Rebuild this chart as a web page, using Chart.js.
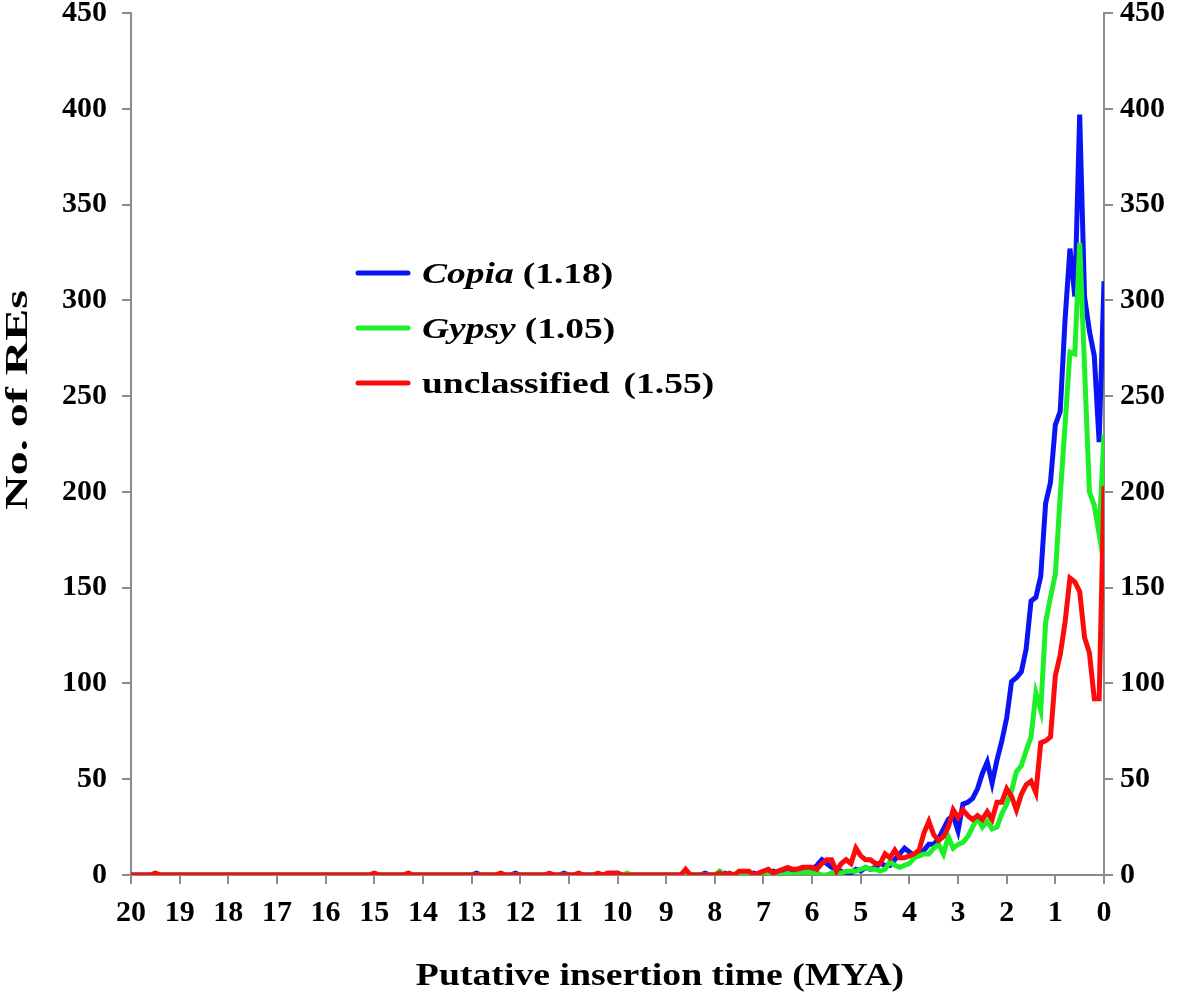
<!DOCTYPE html>
<html>
<head>
<meta charset="utf-8">
<script src="https://cdn.jsdelivr.net/npm/chart.js@4.4.1/dist/chart.umd.min.js"></script>
<style>
  html, body { margin: 0; padding: 0; background: #fff; }
  canvas { display: block; }
</style>
</head>
<body>
<canvas id="grap" width="1181" height="1002"></canvas>
<script>
// time bins in MYA (0.0 .. 20.0, step 0.1)
const mya = Array.from({ length: 201 }, (_, i) => +(i / 10).toFixed(1))

// number of REs per bin, index i -> mya[i]
const copia = [
  310, 226, 271, 284, 302, 397, 302, 327, 290, 242,
  235, 205, 194, 156, 145, 143, 118, 106, 103, 101,
  82, 70, 60, 48, 59, 53, 45, 40, 38, 37,
  23, 31, 29, 24, 19, 16, 16, 13, 11, 10,
  12, 14, 11, 8, 5, 5, 6, 4, 3, 4,
  2, 3, 1, 0, 2, 3, 4, 6, 8, 5,
  3, 3, 2, 3, 2, 2, 1, 1, 2, 1,
  1, 0, 1, 0, 1, 0, 0, 0, 1, 0,
  0, 0, 1, 0, 0, 0, 0, 0, 0, 0,
  0, 0, 0, 0, 0, 0, 0, 0, 0, 0,
  0, 0, 0, 0, 0, 0, 0, 0, 0, 0,
  0, 1, 0, 0, 0, 0, 0, 0, 0, 0,
  0, 1, 0, 0, 0, 0, 0, 0, 0, 1,
  0, 0, 0, 0, 0, 0, 0, 0, 0, 0,
  0, 0, 0, 0, 0, 0, 0, 0, 0, 0,
  0, 0, 0, 0, 0, 0, 0, 0, 0, 0,
  0, 0, 0, 0, 0, 0, 0, 0, 0, 0,
  0, 0, 0, 0, 0, 0, 0, 0, 0, 0,
  0, 0, 0, 0, 0, 0, 0, 0, 0, 0,
  0, 0, 0, 0, 0, 0, 0, 0, 0, 0,
  0
]

const gypsy = [
  230, 178, 193, 200, 265, 330, 272, 273, 235, 198,
  157, 145, 132, 86, 95, 72, 65, 57, 54, 44,
  37, 32, 25, 24, 28, 25, 30, 25, 20, 17,
  16, 14, 20, 11, 16, 14, 11, 11, 10, 9,
  6, 5, 4, 5, 7, 3, 2, 3, 3, 4,
  3, 2, 2, 2, 1, 1, 1, 0, 0, 1,
  1, 2, 1, 1, 0, 1, 0, 0, 0, 0,
  1, 0, 0, 0, 0, 1, 0, 0, 0, 2,
  0, 0, 0, 0, 0, 0, 0, 0, 0, 0,
  0, 0, 0, 0, 0, 0, 0, 0, 1, 0,
  1, 0, 0, 0, 0, 0, 0, 0, 1, 0,
  0, 0, 0, 0, 0, 0, 0, 0, 0, 0,
  0, 0, 0, 0, 1, 0, 0, 0, 0, 0,
  0, 0, 0, 0, 0, 0, 0, 0, 0, 0,
  0, 0, 0, 1, 0, 0, 0, 0, 0, 0,
  1, 0, 0, 0, 0, 0, 0, 0, 0, 0,
  0, 0, 0, 0, 0, 0, 0, 0, 0, 0,
  0, 0, 0, 0, 0, 0, 0, 0, 0, 0,
  0, 0, 0, 0, 0, 0, 0, 0, 0, 0,
  0, 0, 0, 0, 0, 1, 0, 0, 0, 0,
  0
]

const unclassified = [
  203, 92, 92, 116, 124, 148, 153, 155, 132, 115,
  104, 72, 70, 69, 43, 49, 47, 42, 34, 41,
  45, 38, 38, 29, 33, 29, 31, 29, 31, 34,
  30, 34, 25, 20, 18, 21, 28, 22, 13, 11,
  10, 9, 9, 13, 9, 11, 6, 6, 8, 8,
  10, 14, 6, 8, 6, 2, 8, 8, 6, 3,
  4, 4, 4, 3, 3, 4, 3, 2, 1, 3,
  2, 1, 0, 2, 2, 2, 0, 1, 0, 1,
  0, 0, 0, 0, 0, 0, 3, 0, 0, 0,
  0, 0, 0, 0, 0, 0, 0, 0, 0, 0,
  1, 1, 1, 0, 1, 0, 0, 0, 1, 0,
  0, 0, 0, 0, 1, 0, 0, 0, 0, 0,
  0, 0, 0, 0, 1, 0, 0, 0, 0, 0,
  0, 0, 0, 0, 0, 0, 0, 0, 0, 0,
  0, 0, 0, 1, 0, 0, 0, 0, 0, 0,
  1, 0, 0, 0, 0, 0, 0, 0, 0, 0,
  0, 0, 0, 0, 0, 0, 0, 0, 0, 0,
  0, 0, 0, 0, 0, 0, 0, 0, 0, 0,
  0, 0, 0, 0, 0, 0, 0, 0, 0, 0,
  0, 0, 0, 0, 0, 1, 0, 0, 0, 0,
  0
]

const series = [
  { nome: "Copia", media: "(1.18)", italico: true, cor: "#0a14f5", valores: copia, ordem: 3 },
  { nome: "Gypsy", media: "(1.05)", italico: true, cor: "#1ef028", valores: gypsy, ordem: 2 },
  { nome: "unclassified", media: "(1.55)", italico: false, cor: "#ff0a0a", valores: unclassified, ordem: 1 }
]

const xTitulo = "Putative insertion time (MYA)"
const yTitulo = "No. of REs"

const serif = "'Liberation Serif', 'Times New Roman', serif"
const cinza = "#8c8c8c"

// texto esticado na horizontal (a figura original é mais larga)
function textoLargo(ctx, txt, x, y, sx) {
  ctx.save()
  ctx.translate(x, y)
  ctx.scale(sx, 1)
  ctx.fillText(txt, 0, 0)
  ctx.restore()
  return ctx.measureText(txt).width * sx
}

// legend + axis titles drawn by hand (mixed italic/bold)
const extras = {
  id: 'extras',
  afterDraw(chart) {
    const ctx = chart.ctx
    ctx.save()
    ctx.fillStyle = '#000'
    ctx.textBaseline = 'alphabetic'
    series.forEach((s, i) => {
      const y = 273 + i * 55
      ctx.strokeStyle = s.cor
      ctx.lineWidth = 5
      ctx.lineCap = 'round'
      ctx.beginPath()
      ctx.moveTo(358, y)
      ctx.lineTo(408, y)
      ctx.stroke()
      ctx.font = (s.italico ? 'italic ' : '') + 'bold 30px ' + serif
      const w = textoLargo(ctx, s.nome, 422, y + 10, 1.25)
      ctx.font = 'bold 30px ' + serif
      textoLargo(ctx, s.media, 422 + w + (s.italico ? 9 : 14), y + 10, 1.25)
    })

    ctx.font = 'bold 32px ' + serif
    ctx.textAlign = 'center'
    ctx.textBaseline = 'middle'
    textoLargo(ctx, xTitulo, 660, 977, 1.18)

    ctx.translate(19, 400)
    ctx.rotate(-Math.PI / 2)
    textoLargo(ctx, yTitulo, 0, 0, 1.5)
    ctx.restore()
  }
}

function criarGraf() {
  const ctx = document.getElementById('grap').getContext('2d')

  const eixoY = (posicao, largura, pad) => ({
    type: 'linear',
    position: posicao,
    min: 0,
    max: 450,
    afterFit: (scale) => {
      scale.width = largura
      scale.paddingTop = 13
    },
    grid: { drawOnChartArea: false, drawTicks: true, tickLength: 9, color: cinza, lineWidth: 2 },
    border: { color: cinza, width: 2 },
    ticks: {
      stepSize: 50,
      padding: pad,
      color: '#000',
      font: { family: serif, size: 30, weight: 'bold' }
    }
  })

  new Chart(ctx, {
    type: 'line',
    data: {
      datasets: series.map(s => ({
        label: s.nome,
        data: mya.map((t, i) => ({ x: t, y: s.valores[i] })),
        borderColor: s.cor,
        backgroundColor: s.cor,
        borderWidth: 5,
        pointRadius: 0,
        tension: 0,
        order: s.ordem,
        yAxisID: 'y'
      }))
    },
    options: {
      responsive: false,
      maintainAspectRatio: false,
      animation: false,
      layout: { padding: 0 },
      plugins: {
        legend: { display: false },
        tooltip: { enabled: false }
      },
      scales: {
        x: {
          type: 'linear',
          position: 'bottom',
          min: 0,
          max: 20,
          reverse: true,
          afterFit: (scale) => { scale.height = 127 },
          grid: { drawOnChartArea: false, drawTicks: true, tickLength: 9, color: cinza, lineWidth: 2 },
          border: { color: cinza, width: 2 },
          ticks: {
            stepSize: 1,
            autoSkip: false,
            maxRotation: 0,
            padding: 11,
            color: '#000',
            font: { family: serif, size: 30, weight: 'bold' }
          }
        },
        y: eixoY('left', 131, 15),
        y2: eixoY('right', 77, 7)
      }
    },
    plugins: [extras]
  })
}

criarGraf()
</script>
</body>
</html>
